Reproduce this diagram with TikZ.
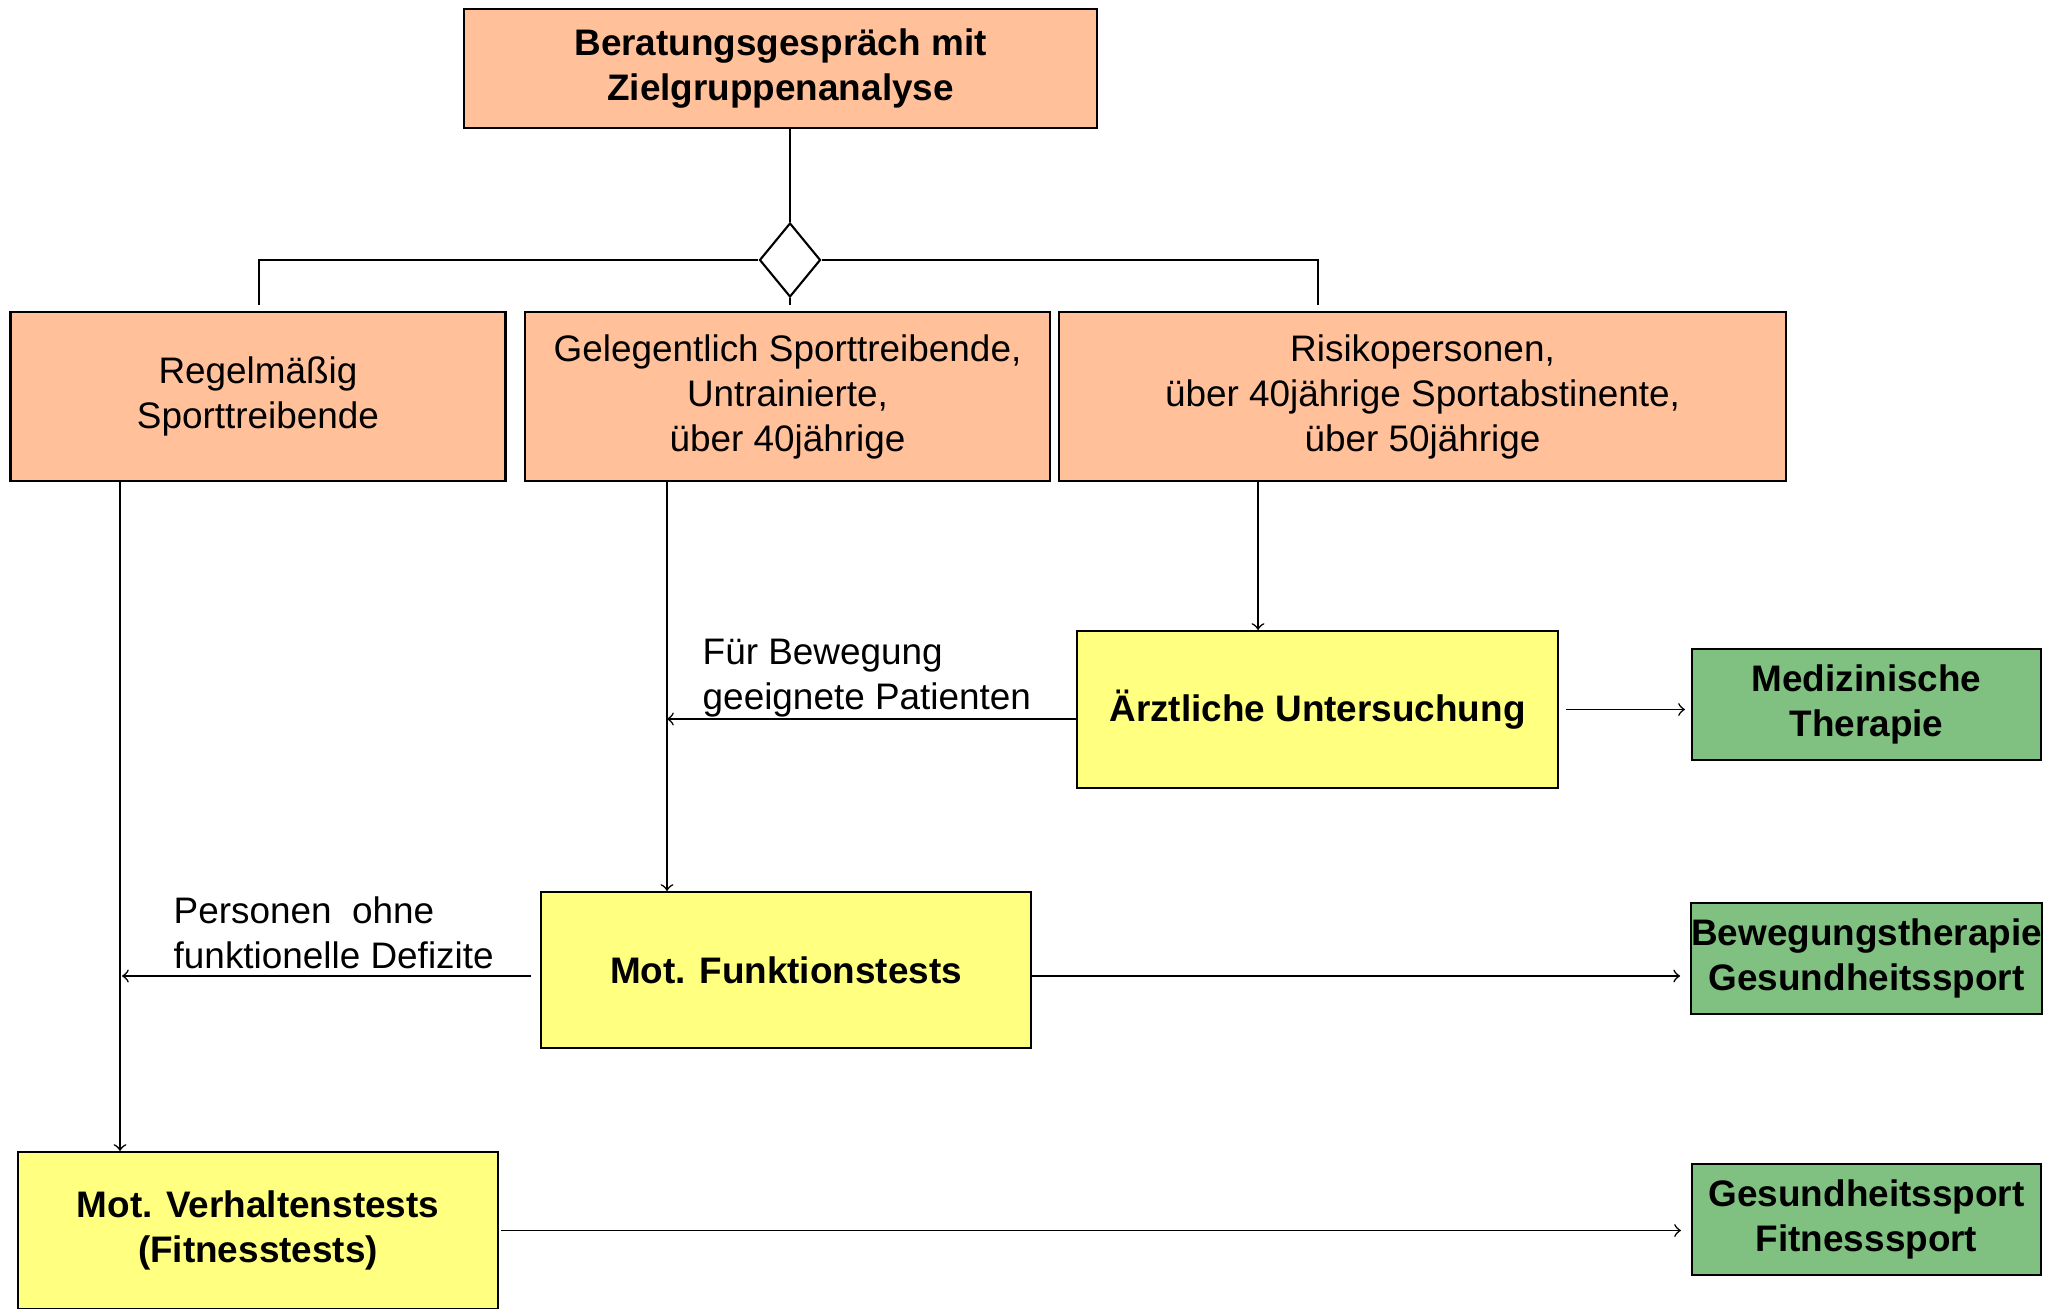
\documentclass[tikz,border=0pt]{standalone}
\usepackage{fontspec}
\setmainfont{Liberation Sans}
\usetikzlibrary{shapes.geometric}
\definecolor{peach}{HTML}{FFC09A}
\definecolor{lemon}{HTML}{FFFF80}
\definecolor{leaf}{HTML}{80C080}
\tikzstyle{txt}=[font=\fontsize{10.5}{12.8}\selectfont]
\tikzstyle{btxt}=[font=\fontsize{10.5}{12.8}\selectfont\bfseries]
\tikzstyle{box}=[draw, line width=0.6pt, inner sep=0pt, align=center, txt]
\tikzstyle{pbox}=[box, fill=peach, minimum height=1.69cm]
\tikzstyle{ybox}=[box, btxt, fill=lemon, minimum height=1.57cm]
\tikzstyle{gbox}=[box, btxt, fill=leaf, minimum width=3.49cm, minimum height=1.11cm]
\tikzstyle{note}=[txt, inner sep=0pt, anchor=west, align=left]
\tikzstyle{link}=[line width=0.45pt]
\tikzstyle{arr}=[link, ->]

\begin{document}
\begin{tikzpicture}
    \useasboundingbox (0,0) rectangle (20.65,-13.09);
        \node[pbox, btxt, minimum width=6.33cm, minimum height=1.19cm] (top) at (7.805,-0.685) {Beratungsgespräch mit\\Zielgruppenanalyse};
        \node[draw, diamond, line width=0.6pt, inner sep=0pt, minimum width=0.61cm, minimum height=0.74cm] (dia) at (7.90,-2.60) {};
        \node[pbox, minimum width=4.95cm] (regel)   at (2.58,-3.965)   {Regelmäßig\\Sporttreibende};
        \node[pbox, minimum width=5.25cm] (gelegen) at (7.875,-3.965)  {Gelegentlich Sporttreibende,\\Untrainierte,\\über 40jährige};
        \node[pbox, minimum width=7.27cm] (risiko)  at (14.225,-3.965) {Risikopersonen,\\über 40jährige Sportabstinente,\\über 50jährige};
        \node[ybox, minimum width=4.81cm] (arzt)  at (13.175,-7.095) {Ärztliche Untersuchung};
        \node[gbox]                       (medi)  at (18.665,-7.045) {Medizinische\\Therapie};
        \node[ybox, minimum width=4.90cm, minimum height=1.56cm] (funk) at (7.86,-9.70) {Mot. Funktionstests};
        \node[gbox]                       (beweg) at (18.665,-9.585) {Bewegungstherapie\\Gesundheitssport};
        \node[ybox, minimum width=4.80cm] (verh)  at (2.58,-12.305)  {Mot. Verhaltenstests\\(Fitnesstests)};
        \node[gbox]                       (fit)   at (18.665,-12.195) {Gesundheitssport\\Fitnesssport};
        \node[note] (fuer)     at (7.02,-6.78)  {Für Bewegung\\geeignete Patienten};
        \node[note] (personen) at (1.73,-9.325) {Personen\ \ ohne\\funktionelle Defizite};
        \coordinate (sl) at (2.59,-3.05);
        \coordinate (sr) at (13.18,-3.05);
        \coordinate (sm) at (7.88,-3.05);
        \coordinate (x1) at (1.20,0);
        \coordinate (x2) at (6.67,0);
        \coordinate (x3) at (12.58,0);
        \draw[link] (top.south -| dia) -- (dia.north);
        \draw[link] (sl) |- (dia.west);
        \draw[link] (sr) |- (dia.east);
        \draw[link] (dia.south) -- (dia.south |- sm);
        \draw[arr] (regel.south -| x1) -- (verh.north -| x1);
        \draw[arr] (gelegen.south -| x2) -- (funk.north -| x2);
        \draw[arr] (risiko.south -| x3) -- (arzt.north -| x3);
        \draw[arr] ([yshift=-0.095cm]arzt.west) -- ([yshift=-0.095cm]arzt.west -| x2);
        \draw[arr, shorten <=0.07cm, shorten >=0.06cm] (arzt.east) -- (medi.west |- arzt.east);
        \draw[arr, shorten <=0.09cm, shorten >=0.02cm] ([yshift=-0.06cm]funk.west) -- ([yshift=-0.06cm]funk.west -| x1);
        \draw[arr, shorten >=0.1cm] ([yshift=-0.06cm]funk.east) -- ([yshift=-0.06cm]funk.east -| beweg.west);
        \draw[arr, shorten <=0.02cm, shorten >=0.1cm] (verh.east) -- (verh.east -| fit.west);
    \end{tikzpicture}
\end{document}
